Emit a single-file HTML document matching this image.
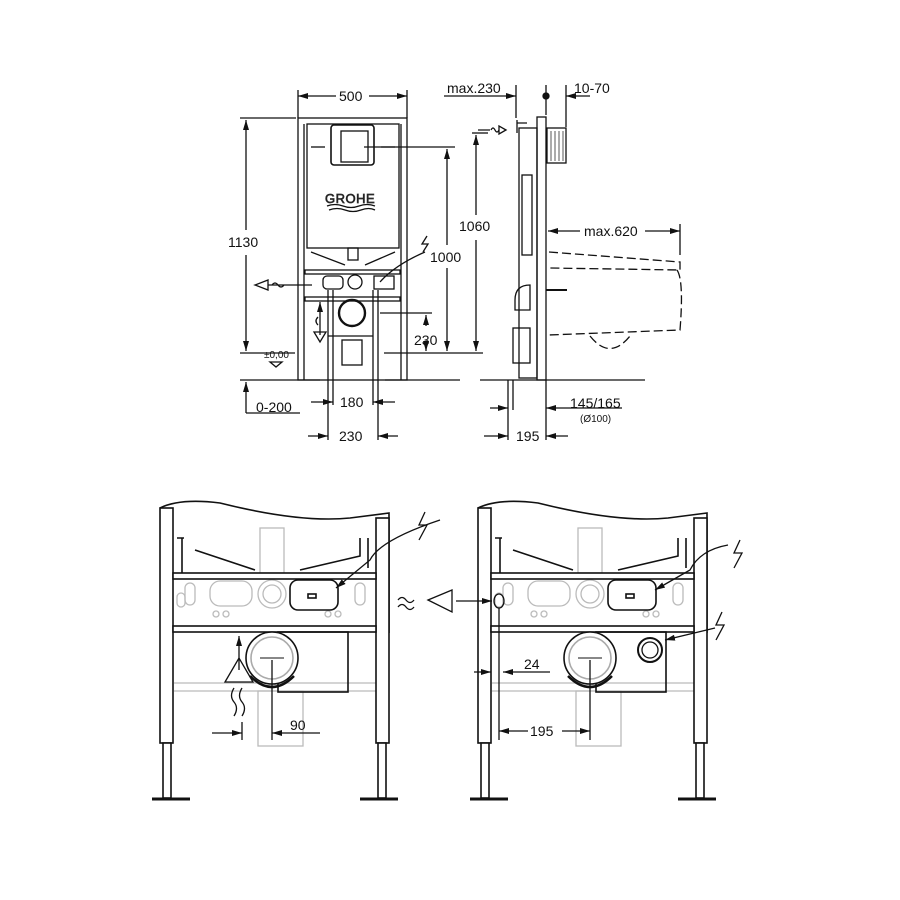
<!DOCTYPE html>
<html><head><meta charset="utf-8"><style>
html,body{margin:0;padding:0;background:#fff}
svg{display:block}
text{font-family:"Liberation Sans",sans-serif;fill:#111}
</style></head><body>
<svg width="900" height="900" viewBox="0 0 900 900" xmlns="http://www.w3.org/2000/svg">
<defs>
<marker id="a" viewBox="0 0 10 6" refX="10" refY="3" markerWidth="10" markerHeight="6" orient="auto-start-reverse" markerUnits="userSpaceOnUse"><path d="M0,0L10,3L0,6z" fill="#111"/></marker>
<g id="frame">
 <g stroke="#bbb" stroke-width="1.3" fill="none">
  <rect x="100" y="30" width="24" height="45"/>
  <circle cx="112" cy="96" r="14"/><circle cx="112" cy="96" r="9"/>
  <rect x="50" y="83" width="42" height="25" rx="10"/>
  <line x1="14" y1="185" x2="216" y2="185"/><line x1="14" y1="193" x2="216" y2="193"/>
  <rect x="98" y="193" width="45" height="55"/>
  <rect x="25" y="85" width="10" height="22" rx="5"/><rect x="195" y="85" width="10" height="22" rx="5"/>
  <circle cx="56" cy="116" r="3"/><circle cx="66" cy="116" r="3"/><circle cx="168" cy="116" r="3"/><circle cx="178" cy="116" r="3"/>
  <rect x="17" y="95" width="8" height="14" rx="4"/>
 </g>
 <g stroke="#111" stroke-width="1.6" fill="#fff">
  <path d="M0,10 Q20,0 60,5 Q140,25 190,20 L229,15 L229,135" fill="none"/>
  <rect x="0" y="10" width="13" height="235"/>
  <rect x="216" y="20" width="13" height="225"/>
  <rect x="3" y="245" width="8" height="55"/>
  <rect x="218" y="245" width="8" height="55"/>
  <line x1="-8" y1="301" x2="30" y2="301" stroke-width="3"/>
  <line x1="200" y1="301" x2="238" y2="301" stroke-width="3"/>
  <rect x="13" y="75" width="203" height="6"/>
  <rect x="13" y="128" width="203" height="6"/>
  <path d="M22,40 L22,75 M17,40 L24,40 M35,52 L95,72 M208,40 L208,70 M200,40 L200,58 L140,72" fill="none"/>
  <rect x="130" y="82" width="48" height="30" rx="8"/>
  <rect x="148" y="96" width="8" height="4"/>
  <rect x="118" y="134" width="70" height="60" fill="none"/>
  <circle cx="112" cy="160" r="26"/>
  <circle cx="112" cy="160" r="21" stroke="#aaa"/>
  <path d="M90,178 Q112,200 134,178" fill="none" stroke-width="2.5"/>
  <line x1="100" y1="160" x2="124" y2="160" stroke-width="1"/>
 </g>
</g>
</defs>

<g stroke="#111" stroke-width="1.3" fill="none">
 <rect x="298" y="118" width="109" height="262"/>
 <line x1="304" y1="124" x2="304" y2="380"/><line x1="401" y1="124" x2="401" y2="380"/>
 <rect x="307" y="124" width="92" height="124"/>
 <rect x="331" y="125" width="43" height="40" rx="3" stroke-width="1.6"/>
 <rect x="341" y="131" width="27" height="31"/>
 <line x1="311" y1="147" x2="325" y2="147"/><line x1="381" y1="147" x2="395" y2="147"/>
 <path d="M327,206 q8,-3 16,0 t16,0 t16,0 M329,210 q8,-3 16,0 t16,0 t14,0"/>
 <rect x="348" y="248" width="10" height="12"/>
 <path d="M311,252 L345,265 M395,252 L365,265"/>
 <rect x="305" y="270" width="95" height="4"/><rect x="305" y="297" width="95" height="4"/>
 <rect x="323" y="276" width="20" height="13" rx="4"/><rect x="374" y="276" width="20" height="13"/>
 <circle cx="355" cy="282" r="7"/>
 <circle cx="352" cy="313" r="13" stroke-width="2.4"/>
 <rect x="342" y="340" width="20" height="25"/>
 <path d="M328,336 h45"/>
 <line x1="240" y1="380" x2="320" y2="380"/><line x1="385" y1="380" x2="460" y2="380"/>
 <line x1="240" y1="353" x2="295" y2="353"/>
 <line x1="384" y1="353" x2="440" y2="353"/>
 <line x1="298" y1="90" x2="298" y2="118"/><line x1="407" y1="90" x2="407" y2="118"/>
 <line x1="298" y1="96" x2="336" y2="96" marker-start="url(#a)"/><line x1="369" y1="96" x2="407" y2="96" marker-end="url(#a)"/>
 <line x1="240" y1="118" x2="296" y2="118"/>
 <line x1="246" y1="120" x2="246" y2="230" marker-start="url(#a)"/><line x1="246" y1="255" x2="246" y2="351" marker-end="url(#a)"/>
 <line x1="246" y1="382" x2="246" y2="413" marker-start="url(#a)"/><line x1="246" y1="413" x2="300" y2="413"/>
 <line x1="364" y1="147" x2="455" y2="147"/>
 <line x1="447" y1="149" x2="447" y2="245" marker-start="url(#a)"/><line x1="447" y1="268" x2="447" y2="351" marker-end="url(#a)"/>
 <line x1="380" y1="313" x2="432" y2="313"/>
 <line x1="426" y1="315" x2="426" y2="326" marker-start="url(#a)"/><line x1="426" y1="348" x2="426" y2="351" marker-end="url(#a)"/>
 <line x1="328" y1="290" x2="328" y2="440"/><line x1="378" y1="290" x2="378" y2="440"/>
 <line x1="333" y1="290" x2="333" y2="405"/><line x1="373" y1="290" x2="373" y2="405"/>
 <line x1="311" y1="402" x2="333" y2="402" marker-end="url(#a)"/><line x1="395" y1="402" x2="373" y2="402" marker-end="url(#a)"/>
 <line x1="308" y1="436" x2="328" y2="436" marker-end="url(#a)"/><line x1="398" y1="436" x2="378" y2="436" marker-end="url(#a)"/>
 <path d="M312,285 L268,285 M268,280 L255,285 L268,290z M272,285 q3,-4 6,0 t6,0"/>
 <line x1="320" y1="335" x2="320" y2="302" marker-end="url(#a)"/>
 <path d="M314,332 L326,332 L320,342z M318,325 q-4,-4 0,-8"/>
 <path d="M380,282 Q395,265 425,252" />
 <path d="M427,236 L422,244 L428,244 L423,252"/>
 <path d="M270,362 h12 l-6,5z"/>
</g>
<g font-size="14">
<text x="339" y="101">500</text>
<text x="228" y="247">1130</text>
<text x="430" y="262">1000</text>
<text x="414" y="345">230</text>
<text x="256" y="412">0-200</text>
<text x="340" y="407">180</text>
<text x="339" y="441">230</text>
<text x="264" y="358" font-size="10">±0,00</text>
<text x="325" y="203" font-size="13" fill="#fff" stroke="#333" stroke-width="0.7" letter-spacing="0.5">GROHE</text>
</g>

<g stroke="#111" stroke-width="1.3" fill="none">
 <rect x="537" y="117" width="9" height="263"/>
 <rect x="519" y="128" width="18" height="250"/>
 <rect x="547" y="128" width="19" height="35"/>
 <path d="M551,131v30M555,131v30M559,131v30M563,131v30" stroke-width="0.7"/>
 <rect x="522" y="175" width="10" height="80"/>
 <path d="M515,300 q0,-15 15,-15 v25 h-15z"/>
 <rect x="513" y="328" width="17" height="35"/>
 <line x1="546" y1="290" x2="567" y2="290" stroke-width="2"/>
 <path d="M517,120 L517,133 M517,123 h10 M478,130 h12 M506,130 l-7,-4 v8z"/>
 <path d="M491,130 q2,-4 4,0 t4,0"/>
 <g stroke-dasharray="9,4">
  <path d="M549,252 L680,262 L680,270 L549,268"/>
  <path d="M677,270 Q684,280 680,330 L548,335"/>
  <path d="M590,336 q20,25 40,0"/>
 </g>
 <line x1="480" y1="380" x2="645" y2="380"/>
 <line x1="516" y1="85" x2="516" y2="118"/><line x1="546" y1="85" x2="546" y2="115"/><line x1="566" y1="85" x2="566" y2="127"/>
 <line x1="444" y1="96" x2="516" y2="96" marker-end="url(#a)"/>
 <line x1="590" y1="96" x2="566" y2="96" marker-end="url(#a)"/>
 <circle cx="546" cy="96" r="3" fill="#111"/>
 <line x1="472" y1="133" x2="488" y2="133"/>
 <line x1="476" y1="135" x2="476" y2="215" marker-start="url(#a)"/><line x1="476" y1="240" x2="476" y2="351" marker-end="url(#a)"/>
 <line x1="440" y1="353" x2="483" y2="353"/>
 <line x1="548" y1="231" x2="580" y2="231" marker-start="url(#a)"/><line x1="645" y1="231" x2="680" y2="231" marker-end="url(#a)"/>
 <line x1="680" y1="224" x2="680" y2="255"/>
 <line x1="508" y1="380" x2="508" y2="440"/><line x1="513" y1="380" x2="513" y2="410"/><line x1="546" y1="380" x2="546" y2="440"/>
 <line x1="490" y1="408" x2="508" y2="408" marker-end="url(#a)"/>
 <line x1="622" y1="408" x2="546" y2="408" marker-end="url(#a)"/>
 <line x1="484" y1="436" x2="508" y2="436" marker-end="url(#a)"/>
 <line x1="568" y1="436" x2="546" y2="436" marker-end="url(#a)"/>
</g>
<g font-size="14">
<text x="447" y="93">max.230</text>
<text x="574" y="93">10-70</text>
<text x="459" y="231">1060</text>
<text x="584" y="236">max.620</text>
<text x="570" y="408">145/165</text>
<text x="580" y="422" font-size="10">(Ø100)</text>
<text x="516" y="441">195</text>
</g>

<use href="#frame" x="160" y="498"/>
<use href="#frame" x="478" y="498"/>

<g stroke="#111" stroke-width="1.3" fill="none">
 <line x1="239" y1="670" x2="239" y2="636" marker-end="url(#a)"/>
 <path d="M225,682 L239,658 L253,682z"/>
 <path d="M234,688 q-5,8 0,14 t0,14 M242,688 q-5,8 0,14 t0,14"/>
 <line x1="242" y1="722" x2="242" y2="740"/>
 <line x1="212" y1="733" x2="242" y2="733" marker-end="url(#a)"/>
 <line x1="272" y1="660" x2="272" y2="740"/>
 <line x1="320" y1="733" x2="272" y2="733" marker-end="url(#a)"/>
 <path d="M440,520 Q380,540 370,560 L336,588" marker-end="url(#a)"/>
 <path d="M425,512 L419,525 L427,525 L419,540"/>
 <path d="M398,600 q4,-5 8,0 t8,0 M398,607 q4,-5 8,0 t8,0"/>
 <path d="M428,600 L452,590 L452,612z" />
 <line x1="456" y1="601" x2="492" y2="601" marker-end="url(#a)"/>
 <ellipse cx="499" cy="601" rx="5" ry="7"/>
 <line x1="499" y1="608" x2="499" y2="740"/>
 <line x1="474" y1="672" x2="491" y2="672" marker-end="url(#a)"/>
 <line x1="550" y1="672" x2="503" y2="672" marker-end="url(#a)"/>
 <line x1="590" y1="660" x2="590" y2="740"/>
 <line x1="499" y1="731" x2="528" y2="731" marker-start="url(#a)"/>
 <line x1="562" y1="731" x2="590" y2="731" marker-end="url(#a)"/>
 <path d="M728,545 Q700,550 690,570 L655,590" marker-end="url(#a)"/>
 <path d="M740,540 L734,553 L742,553 L734,568"/>
 <path d="M715,628 L665,640" marker-end="url(#a)"/>
 <path d="M722,612 L716,625 L724,625 L716,640"/>
 <circle cx="650" cy="650" r="12" stroke-width="2"/><circle cx="650" cy="650" r="8"/>
</g>
<g font-size="14">
<text x="290" y="730">90</text>
<text x="524" y="669">24</text>
<text x="530" y="736">195</text>
</g>
</svg>
</body></html>
